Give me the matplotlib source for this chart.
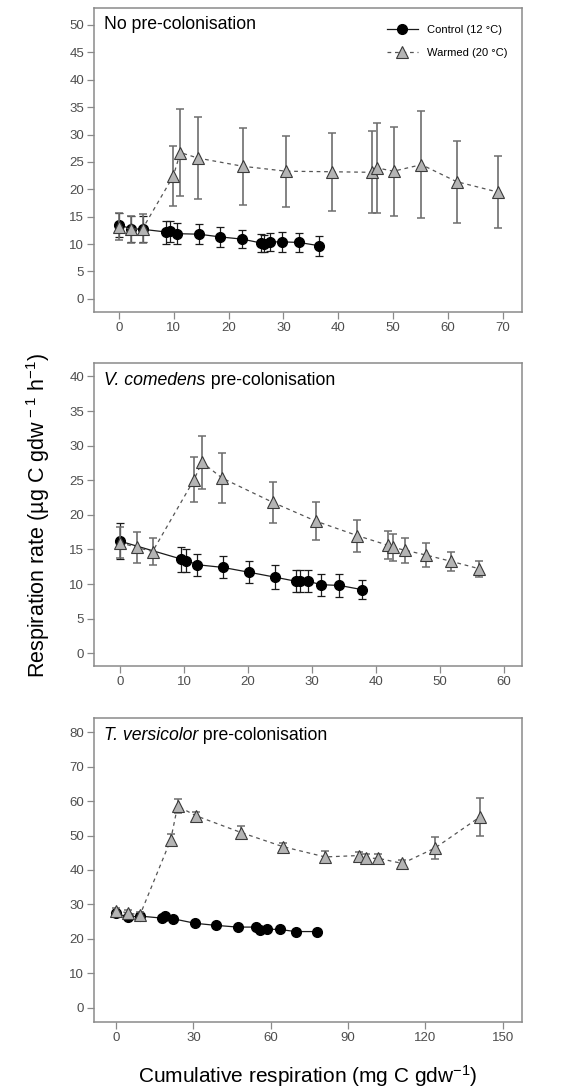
import matplotlib
matplotlib.use('Agg')
import matplotlib.pyplot as plt

plt.rcParams['font.family'] = ['Liberation Sans', 'DejaVu Sans']
plt.rcParams['mathtext.fontset'] = 'custom'
plt.rcParams['mathtext.rm'] = 'Liberation Sans'
plt.rcParams['mathtext.it'] = 'Liberation Sans:italic'
plt.rcParams['mathtext.bf'] = 'Liberation Sans:bold'

# --- panel 1: no pre-colonisation ---
ctrl1_x = [0, 2.2, 4.3, 8.6, 9.3, 10.6, 14.6, 18.5, 22.5, 25.9, 26.5, 27.5, 29.8, 32.8, 36.5]
ctrl1_y = [13.5, 12.8, 12.7, 12.2, 12.3, 11.9, 11.8, 11.3, 10.9, 10.2, 10.1, 10.4, 10.4, 10.3, 9.7]
ctrl1_e = [2.2, 2.4, 2.4, 2.1, 2.0, 1.9, 1.8, 1.8, 1.6, 1.6, 1.6, 1.7, 1.8, 1.8, 1.8]
warm1_x = [0, 2.2, 4.3, 9.9, 11.2, 14.4, 22.6, 30.5, 38.8, 46.1, 47.1, 50.1, 55.2, 61.6, 69.1]
warm1_y = [13.2, 12.7, 12.8, 22.4, 26.7, 25.7, 24.2, 23.3, 23.2, 23.1, 23.9, 23.3, 24.5, 21.4, 19.5]
warm1_e = [2.5, 2.5, 2.6, 5.5, 8.0, 7.5, 7.0, 6.5, 7.1, 7.5, 8.2, 8.1, 9.8, 7.5, 6.5]

# --- panel 2: V. comedens ---
ctrl2_x = [0, 9.6, 10.4, 12.0, 16.1, 20.2, 24.2, 27.5, 28.1, 29.4, 31.5, 34.3, 37.8]
ctrl2_y = [16.2, 13.6, 13.4, 12.8, 12.4, 11.7, 11.0, 10.4, 10.4, 10.4, 9.9, 9.8, 9.2]
ctrl2_e = [2.6, 1.8, 1.7, 1.6, 1.6, 1.6, 1.7, 1.6, 1.6, 1.6, 1.6, 1.7, 1.4]
warm2_x = [0, 2.6, 5.1, 11.6, 12.8, 16.0, 23.9, 30.6, 37.1, 41.9, 42.7, 44.5, 47.8, 51.7, 56.2]
warm2_y = [16.0, 15.3, 14.7, 25.1, 27.6, 25.3, 21.8, 19.1, 17.0, 15.6, 15.3, 14.9, 14.2, 13.3, 12.2]
warm2_e = [2.3, 2.2, 2.0, 3.3, 3.8, 3.6, 3.0, 2.7, 2.3, 2.0, 2.0, 1.8, 1.7, 1.4, 1.2]

# --- panel 3: T. versicolor ---
ctrl3_x = [0, 4.5, 9.3, 18.0, 19.0, 22.3, 30.7, 38.8, 47.2, 54.3, 55.9, 58.5, 63.6, 69.7, 77.9]
ctrl3_y = [27.5, 26.3, 26.6, 26.0, 26.6, 25.8, 24.5, 23.9, 23.4, 23.4, 22.6, 22.8, 22.7, 22.1, 22.1]
ctrl3_e = [0.6, 0.6, 0.6, 0.6, 0.6, 0.6, 0.6, 0.6, 0.6, 0.6, 0.6, 0.6, 0.6, 0.6, 0.6]
warm3_x = [0, 4.8, 9.3, 21.2, 23.9, 30.9, 48.5, 64.7, 81.1, 94.3, 96.9, 101.8, 111.1, 123.8, 141.3]
warm3_y = [28.2, 27.5, 26.9, 48.7, 58.6, 55.8, 50.9, 46.8, 43.8, 44.2, 43.4, 43.4, 41.9, 46.4, 55.5]
warm3_e = [0.8, 0.8, 0.8, 1.8, 2.0, 1.0, 1.8, 1.0, 1.7, 1.0, 1.2, 1.3, 1.0, 3.2, 5.5]

# (italic part, plain part) of each panel title
titles = [('', 'No pre-colonisation'),
          ('V. comedens', ' pre-colonisation'),
          ('T. versicolor', ' pre-colonisation')]
xticks = [range(0, 71, 10), range(0, 61, 10), range(0, 151, 30)]
yticks = [range(0, 51, 5), range(0, 41, 5), range(0, 81, 10)]
xlims = [(-4.5, 73.5), (-4.0, 62.8), (-8.4, 157.4)]
ylims = [(-2.4, 53.1), (-1.8, 41.9), (-4.1, 84.1)]
positions = [[0.167, 0.7143, 0.7564, 0.2784],
             [0.167, 0.3904, 0.7564, 0.2769],
             [0.167, 0.0644, 0.7564, 0.2778]]

panels = [(ctrl1_x, ctrl1_y, ctrl1_e, warm1_x, warm1_y, warm1_e),
          (ctrl2_x, ctrl2_y, ctrl2_e, warm2_x, warm2_y, warm2_e),
          (ctrl3_x, ctrl3_y, ctrl3_e, warm3_x, warm3_y, warm3_e)]

spine_col = '#8a8a8a'
tick_col = '#4d4d4d'

fig = plt.figure(figsize=(5.65, 10.92), dpi=100)

for i, (cx, cy, ce, wx, wy, we) in enumerate(panels):
    ax = fig.add_axes(positions[i])

    ax.errorbar(cx, cy, yerr=ce, fmt='none', ecolor='#1a1a1a',
                elinewidth=0.9, capsize=2.6, capthick=0.9, zorder=2)
    ax.plot(cx, cy, '-', color='#1a1a1a', lw=0.9, marker='o', ms=7,
            mfc='black', mec='black', zorder=3, label='Control (12 °C)')

    ax.errorbar(wx, wy, yerr=we, fmt='none', ecolor='#6e6e6e',
                elinewidth=1.2, capsize=2.6, capthick=1.1, zorder=4)
    ax.plot(wx, wy, color='#555555', lw=0.9, ls=(0, (3, 3)), marker='^',
            ms=8, mfc='#b4b4b4', mec='#3a3a3a', mew=0.8, zorder=5,
            label='Warmed (20 °C)')

    ax.set_xlim(xlims[i])
    ax.set_ylim(ylims[i])
    ax.set_xticks(list(xticks[i]))
    ax.set_yticks(list(yticks[i]))
    ax.tick_params(direction='out', length=5, width=0.9, color=spine_col,
                   labelcolor=tick_col, labelsize=9.5, pad=2.5)
    for sp in ax.spines.values():
        sp.set_color(spine_col)
        sp.set_linewidth(1.1)

    it_part, plain_part = titles[i]
    if it_part:
        t = ax.text(0.023, 0.972, it_part, transform=ax.transAxes,
                    ha='left', va='top', fontsize=12.7, style='italic')
        ax.annotate(plain_part, xy=(1, 0), xycoords=t, ha='left',
                    va='bottom', fontsize=12.7)
    else:
        ax.text(0.023, 0.972, plain_part, transform=ax.transAxes,
                ha='left', va='top', fontsize=12.7)

    if i == 0:
        ax.legend(loc='upper right', bbox_to_anchor=(0.971, 0.952),
                  frameon=False, fontsize=8, handlelength=2.8,
                  handletextpad=0.8, labelspacing=1.15, borderpad=0.2,
                  borderaxespad=0)

fig.text(0.068, 0.5275, r'Respiration rate (µg C gdw$^{\,-1}$ h$^{-1}$)',
         rotation=90, ha='center', va='center', fontsize=15.5)
fig.text(0.545, 0.003, r'Cumulative respiration (mg C gdw$^{-1}$)',
         ha='center', va='bottom', fontsize=15)

fig.savefig('out.png', dpi=100)
